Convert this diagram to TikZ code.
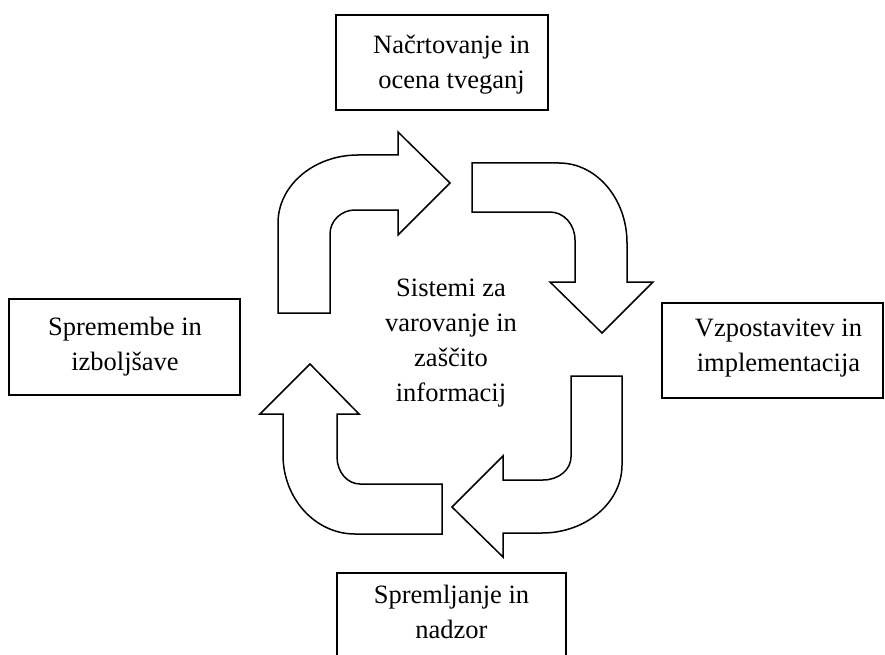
\documentclass[tikz,border=0pt]{standalone}
\usepackage{fontspec}
\setmainfont{Liberation Serif}
\begin{document}
\begin{tikzpicture}[x=1pt,y=-1pt,
  frame/.style={draw=black,line width=1.5pt,fill=white,inner sep=0pt},
  lbl/.style={align=center,font=\fontsize{26.5}{35}\selectfont,inner sep=0pt},
  bent/.style={draw=black,line width=1.5pt,fill=white,line join=miter}]
\useasboundingbox (0,0) rectangle (885,655);
\clip (0,0) rectangle (885,655);

% phase boxes
\node[frame,minimum width=212pt,minimum height=95pt] (plan) at (442,62.5) {};
\node[frame,minimum width=231pt,minimum height=96pt] (change) at (124.5,347) {};
\node[frame,minimum width=221pt,minimum height=95pt] (build) at (772.5,350.5) {};
\node[frame,anchor=north west,minimum width=229pt,minimum height=130pt] (monitor) at (336,572) {};

% box captions
\node[lbl] (plantext) at (451.5,64.5) {Načrtovanje in\\ocena tveganj};
\node[lbl] (changetext) at (125,346.4) {Spremembe in\\izboljšave};
\node[lbl] (buildtext) at (778.5,348.5) {Vzpostavitev in\\implementacija};
\node[lbl] (monitortext) at (451.5,611.6) {Spremljanje in\\nadzor};

% centre caption
\node[lbl] (core) at (451,343.5) {Sistemi za\\varovanje in\\zaščito\\informacij};

% bent arrow: up, then right
\draw[bent] (278,313) -- (278,223)
  .. controls (278,185.5) and (313.8,155) .. (358,155)
  -- (398,155) -- (398,132) -- (450,183) -- (398,235) -- (398,210) -- (355,210)
  .. controls (341,210) and (330,221) .. (330,234)
  -- (330,313) -- cycle;

% bent arrow: right, then down
\draw[bent] (472,163) -- (559,163)
  .. controls (596.5,163) and (627,198.8) .. (627,243)
  -- (627,282) -- (653,282) -- (602,333) -- (550,282) -- (575,282) -- (575,240)
  .. controls (575,224.5) and (563.8,212) .. (550,212)
  -- (472,212) -- cycle;

% bent arrow: down, then left
\draw[bent] (571,376) -- (622,376) -- (622,465)
  .. controls (622,502.5) and (586,533) .. (542,533)
  -- (503,533) -- (503,557) -- (452,507) -- (503,456) -- (503,480) -- (543,480)
  .. controls (558.5,480) and (571,469.7) .. (571,457)
  -- cycle;

% bent arrow: left, then up
\draw[bent] (442,484) -- (442,534) -- (355,534)
  .. controls (315.3,534) and (283,498.6) .. (283,455)
  -- (283,414) -- (260,414) -- (310,364) -- (359,414) -- (337,414) -- (337,457)
  .. controls (337,471.9) and (347.3,484) .. (360,484)
  -- cycle;
\end{tikzpicture}
\end{document}
